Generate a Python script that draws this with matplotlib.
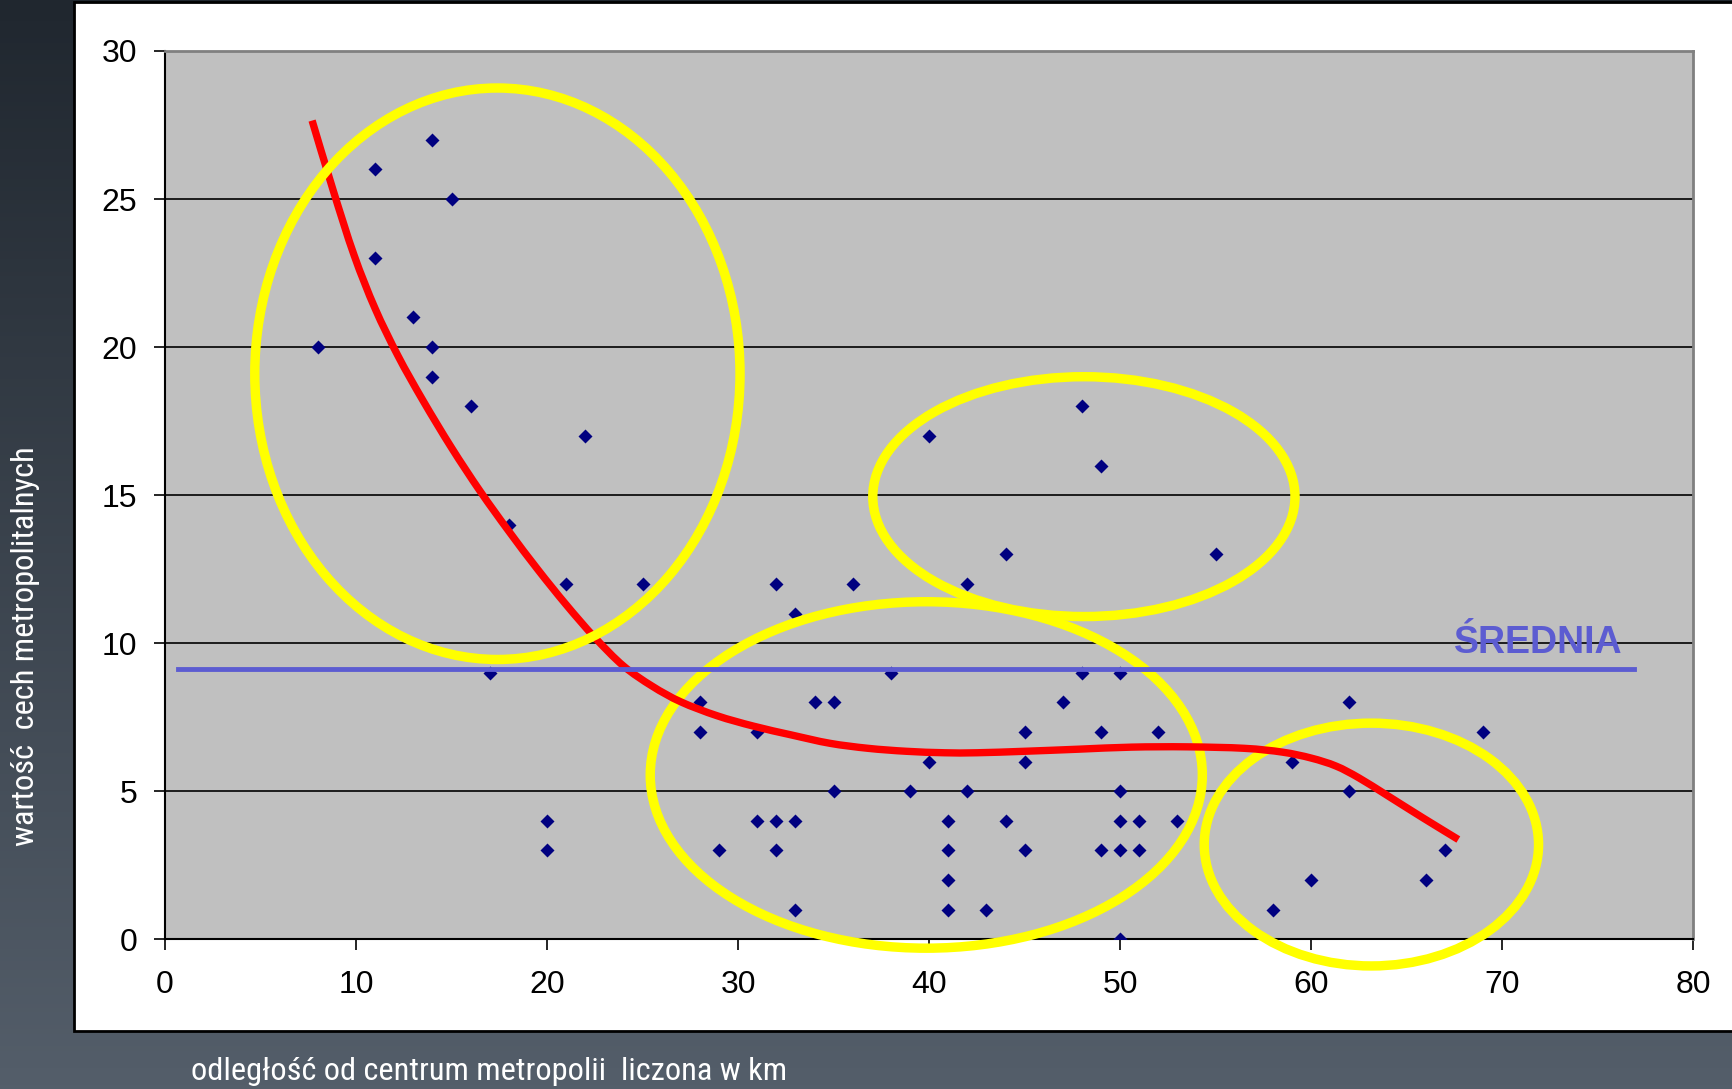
import numpy as np
import matplotlib
matplotlib.use("Agg")
import matplotlib.pyplot as plt
from matplotlib.patches import Ellipse, Rectangle, PathPatch
from matplotlib.path import Path
from matplotlib.colors import LinearSegmentedColormap
from matplotlib import font_manager
from matplotlib.font_manager import FontProperties

# ---------------- data ----------------
distance_km = [8, 11, 11, 13, 14, 14, 14, 15, 16, 17, 18, 20, 20, 21, 22, 25,
               28, 28, 29, 31, 31, 32, 32, 32, 33, 33, 33, 34, 35, 35, 36, 38,
               39, 40, 40, 41, 41, 41, 41, 42, 42, 43, 44, 44, 45, 45, 45, 47,
               48, 48, 49, 49, 49, 50, 50, 50, 50, 50, 51, 51, 52, 53, 55, 58,
               59, 60, 62, 62, 66, 67, 69]
metro_value = [20, 26, 23, 21, 27, 20, 19, 25, 18, 9, 14, 4, 3, 12, 17, 12,
               8, 7, 3, 7, 4, 12, 4, 3, 11, 4, 1, 8, 8, 5, 12, 9,
               5, 17, 6, 4, 3, 2, 1, 12, 5, 1, 13, 4, 7, 6, 3, 8,
               18, 9, 16, 7, 3, 9, 5, 4, 3, 0, 4, 3, 7, 4, 13, 1,
               6, 2, 8, 5, 2, 3, 7]

# hand-drawn trend curve
trend_x = [7.7, 8.8, 9.9, 11.0, 12.2, 13.5, 15.0, 16.5, 18.0, 19.5, 21.0,
           22.5, 24.0, 25.5, 27.0, 28.9, 30.8, 32.8, 34.8, 36.8, 38.8, 40.8,
           42.5, 45.0, 47.8, 50.6, 53.5, 56.5, 58.5, 60.0, 61.3, 62.5, 64.0,
           65.8, 67.7]
trend_y = [27.65, 25.3, 23.1, 21.3, 19.7, 18.2, 16.6, 15.13, 13.78, 12.5, 11.3,
           10.19, 9.23, 8.55, 8.02, 7.55, 7.2, 6.9, 6.62, 6.45, 6.35, 6.3,
           6.3, 6.35, 6.42, 6.49, 6.5, 6.45, 6.32, 6.12, 5.85, 5.45, 4.85,
           4.12, 3.37]

mean_value = 9.13
mean_x_start = 0.7
mean_x_end = 76.9

# highlighted groups (center x, center y, width, height) in data units
group_ellipses = [
    (17.4, 19.1, 25.4, 19.3),
    (48.1, 14.95, 22.1, 8.1),
    (39.85, 5.55, 28.9, 11.7),
    (63.15, 3.2, 17.5, 8.2),
]

x_ticks = [0, 10, 20, 30, 40, 50, 60, 70, 80]
y_ticks = [0, 5, 10, 15, 20, 25, 30]
x_label = "odległość od centrum metropolii  liczona w km"
y_label = "wartość  cech metropolitalnych"
mean_label = "ŚREDNIA"

# ---------------- fonts ----------------
names = {f.name for f in font_manager.fontManager.ttflist}
base_font = "Liberation Sans" if "Liberation Sans" in names else "DejaVu Sans"
plt.rcParams["font.family"] = [base_font, "DejaVu Sans"]

narrow_prop = None
for cand in ["Liberation Sans Narrow", "Arial Narrow", "Roboto Condensed",
             "Open Sans Condensed"]:
    if cand in names:
        narrow_prop = FontProperties(family=cand, size=23.3)
        break
if narrow_prop is None:
    has_dv_cond = any(f.name == "DejaVu Sans" and f.stretch == "condensed"
                      for f in font_manager.fontManager.ttflist)
    if has_dv_cond:
        narrow_prop = FontProperties(family="DejaVu Sans", stretch="condensed", size=22)
    else:
        narrow_prop = FontProperties(family=base_font, size=21.5)

W, H = 1732, 1089
fig = plt.figure(figsize=(W / 100, H / 100), dpi=100)

# background gradient
bg = fig.add_axes([0, 0, 1, 1], zorder=-10)
grad = np.linspace(0, 1, 256)[:, None]
cmap = LinearSegmentedColormap.from_list("bg", ["#20272f", "#545e6a"])
bg.imshow(grad, aspect="auto", cmap=cmap, extent=[0, 1, 0, 1], origin="upper")
bg.add_patch(Rectangle((74 / W, 1 - 1031 / H), 1.2, (1031 - 1.5) / H,
                       transform=bg.transAxes, facecolor="white",
                       edgecolor="black", lw=2))
bg.set_xlim(0, 1)
bg.set_ylim(0, 1)
bg.axis("off")

# main axes
ax = fig.add_axes([165 / W, 1 - 939.3 / H, (1693.3 - 165) / W, (939.3 - 51) / H])
ax.set_facecolor("#c0c0c0")
ax.set_xlim(0, 80)
ax.set_ylim(0, 30)
ax.set_xticks(x_ticks)
ax.set_yticks(y_ticks)
ax.yaxis.grid(True, color="black", lw=1.2)
ax.set_axisbelow(True)
ax.tick_params(axis="both", direction="out", length=8, width=1.2, colors="black",
               labelsize=23)
ax.tick_params(axis="y", pad=12)
ax.tick_params(axis="x", pad=14)
for s in ["left", "bottom"]:
    ax.spines[s].set_color("black")
    ax.spines[s].set_linewidth(1.5)
for s in ["top", "right"]:
    ax.spines[s].set_color("#808080")
    ax.spines[s].set_linewidth(2)

# points
ax.plot(distance_km, metro_value, linestyle="none", marker="D", ms=7.3,
        color="#000080", mec="none", zorder=3)

# ellipses
for i, (cx, cy, w, h) in enumerate(group_ellipses):
    e = Ellipse((cx, cy), w, h, fill=False, edgecolor="#ffff00", lw=6.8,
                clip_on=False, zorder=6 if i == 0 else 4)
    ax.add_patch(e)

# trend curve drawn as a smooth Catmull-Rom (Bezier) path through read points
pts = np.column_stack([trend_x, trend_y])
verts = [tuple(pts[0])]
codes = [Path.MOVETO]
n = len(pts)
for i in range(n - 1):
    p0 = pts[i - 1] if i > 0 else pts[i]
    p1 = pts[i]
    p2 = pts[i + 1]
    p3 = pts[i + 2] if i + 2 < n else pts[i + 1]
    c1 = p1 + (p2 - p0) / 6.0
    c2 = p2 - (p3 - p1) / 6.0
    verts += [tuple(c1), tuple(c2), tuple(p2)]
    codes += [Path.CURVE4] * 3
curve = PathPatch(Path(verts, codes), fill=False, edgecolor="#ff0000", lw=5.3,
                  capstyle="butt", joinstyle="round", zorder=5,
                  transform=ax.transData)
ax.add_patch(curve)

# mean line
ax.plot([mean_x_start, mean_x_end], [mean_value, mean_value], color="#5c5cd1",
        lw=3.5, zorder=5.5)
ax.text(76.3, 9.67, mean_label, color="#5c5cd1", fontsize=27, fontweight="bold",
        ha="right", va="baseline", zorder=7)

# axis titles
fig.text(26 / W, 1 - 646 / H, y_label, rotation=90, color="white",
         fontproperties=narrow_prop, ha="center", va="center")
fig.text(191 / W, 1 - 1071 / H, x_label, color="white",
         fontproperties=narrow_prop, ha="left", va="center")

fig.savefig("out.png", dpi=100)
